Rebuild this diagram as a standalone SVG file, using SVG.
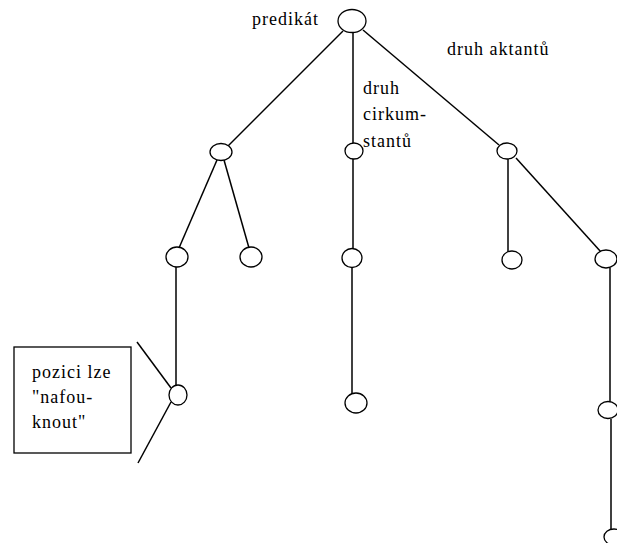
<svg xmlns="http://www.w3.org/2000/svg" width="617" height="543" viewBox="0 0 617 543">
<style>
.n{fill:#fff;stroke:#000;stroke-width:1.3}
.c line{stroke:#000;stroke-width:1.5}
.t{font-family:"Liberation Serif","DejaVu Serif","Times New Roman",serif;font-size:18px;letter-spacing:1px;fill:#000}
</style>
<rect width="617" height="543" fill="#fff"/>
<g id="connectors" class="c">
<line x1="343" y1="31" x2="228" y2="146"/>
<line x1="353" y1="33" x2="353" y2="143"/>
<line x1="363" y1="30" x2="499" y2="145"/>
<line x1="217" y1="160" x2="179" y2="248"/>
<line x1="224" y1="160" x2="249" y2="248"/>
<line x1="353" y1="159" x2="353" y2="249"/>
<line x1="352" y1="267" x2="352" y2="394"/>
<line x1="508" y1="159" x2="508" y2="252"/>
<line x1="516" y1="158" x2="601" y2="252"/>
<line x1="610" y1="268" x2="610" y2="402"/>
<line x1="611" y1="419" x2="611" y2="530"/>
<line x1="176" y1="267" x2="176" y2="386"/>
<line x1="137" y1="342" x2="171" y2="388"/>
<line x1="171" y1="402" x2="138" y2="463"/>
</g>
<g id="root"><ellipse class="n" cx="352" cy="21" rx="14" ry="11.5"/><text class="t" x="252" y="25">predikát</text></g>
<g id="n-left"><ellipse class="n" cx="221" cy="152" rx="11" ry="8.5"/></g>
<g id="n-mid"><ellipse class="n" cx="354" cy="151" rx="9" ry="8"/></g>
<g id="n-right"><ellipse class="n" cx="507" cy="151" rx="10" ry="8"/></g>
<g id="n-ll"><ellipse class="n" cx="177" cy="257" rx="11" ry="10"/></g>
<g id="n-lr"><ellipse class="n" cx="251" cy="257" rx="11" ry="10"/></g>
<g id="n-m2"><ellipse class="n" cx="352" cy="258" rx="10" ry="9.5"/></g>
<g id="n-m3"><ellipse class="n" cx="356" cy="403" rx="11" ry="10"/></g>
<g id="n-rl"><ellipse class="n" cx="512" cy="260" rx="10" ry="9"/></g>
<g id="n-rr"><ellipse class="n" cx="606" cy="259" rx="11" ry="9"/></g>
<g id="n-rr2"><ellipse class="n" cx="608" cy="410" rx="10" ry="8.5"/></g>
<g id="n-rr3"><ellipse class="n" cx="614" cy="537" rx="10" ry="8"/></g>
<g id="n-ll2"><ellipse class="n" cx="178" cy="395" rx="9" ry="10"/></g>
<g id="lbl-aktantu"><text class="t" x="447" y="55">druh aktantů</text></g>
<g id="lbl-cirkum"><text class="t"><tspan x="363" y="94">druh</tspan><tspan x="363" y="120">cirkum-</tspan><tspan x="363" y="147">stantů</tspan></text></g>
<g id="note"><rect x="14" y="347" width="117" height="106" fill="#fff" stroke="#000" stroke-width="1.3"/><text class="t"><tspan x="32" y="378">pozici lze</tspan><tspan x="32" y="403">"nafou-</tspan><tspan x="32" y="428">knout"</tspan></text></g>
</svg>
